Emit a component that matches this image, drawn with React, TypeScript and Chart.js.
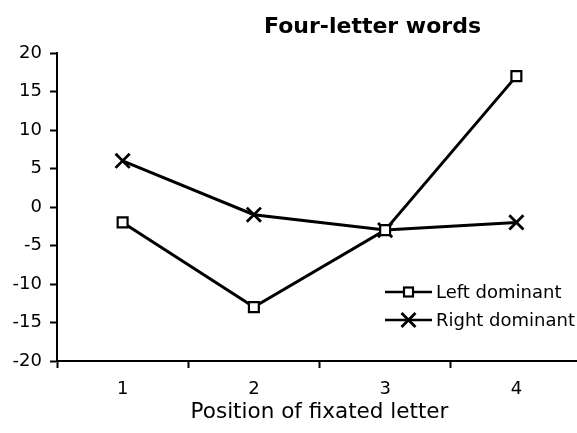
import React, { useEffect, useRef } from "react";
import { Chart, registerables } from "chart.js";

Chart.register(...registerables);

const categories = ["1", "2", "3", "4"];
const leftDominant = [-2, -13, -3, 17];
const rightDominant = [6, -1, -3, -2];
const seriesNames = ["Left dominant", "Right dominant"];
const chartTitle = "Four-letter words";
const xAxisTitle = "Position of fixated letter";

const FONT = "'DejaVu Sans', Verdana, sans-serif";

const titlePlugin = {
  id: "customTitle",
  afterDraw(chart: any) {
    const ctx = chart.ctx;
    ctx.save();
    ctx.fillStyle = "#000";
    ctx.font = `bold 22px ${FONT}`;
    ctx.textAlign = "center";
    ctx.textBaseline = "middle";
    ctx.fillText(chartTitle, 372.5, 27);
    ctx.restore();
  },
};

const legendPlugin = {
  id: "customLegend",
  afterDraw(chart: any) {
    const ctx = chart.ctx;
    const x0 = 385;
    const x1 = 432;
    const mx = (x0 + x1) / 2;
    const rows = [292, 320];
    ctx.save();
    ctx.strokeStyle = "#000";
    ctx.fillStyle = "#000";
    rows.forEach((y, i) => {
      ctx.lineWidth = 2.5;
      ctx.beginPath();
      ctx.moveTo(x0, y);
      ctx.lineTo(x1, y);
      ctx.stroke();
      if (i === 0) {
        ctx.fillStyle = "#fff";
        ctx.fillRect(mx - 4.5, y - 4.5, 9, 9);
        ctx.lineWidth = 2.2;
        ctx.strokeRect(mx - 4.5, y - 4.5, 9, 9);
      } else {
        ctx.lineWidth = 2.8;
        const d = 7;
        ctx.beginPath();
        ctx.moveTo(mx - d, y - d);
        ctx.lineTo(mx + d, y + d);
        ctx.moveTo(mx - d, y + d);
        ctx.lineTo(mx + d, y - d);
        ctx.stroke();
      }
      ctx.fillStyle = "#000";
      ctx.font = `18px ${FONT}`;
      ctx.textAlign = "left";
      ctx.textBaseline = "middle";
      ctx.fillText(seriesNames[i], x1 + 4, y + 1);
    });
    ctx.restore();
  },
};

export default function App() {
  const ref = useRef<HTMLCanvasElement>(null);

  useEffect(() => {
    if (!ref.current) return;
    const chart = new Chart(ref.current, {
      type: "line",
      data: {
        labels: categories,
        datasets: [
          {
            label: seriesNames[0],
            data: leftDominant,
            borderColor: "#000",
            borderWidth: 3,
            pointStyle: "rect",
            pointRadius: 7,
            pointBorderWidth: 2.2,
            pointBackgroundColor: "#fff",
            pointBorderColor: "#000",
            tension: 0,
          },
          {
            label: seriesNames[1],
            data: rightDominant,
            borderColor: "#000",
            borderWidth: 3,
            pointStyle: "crossRot",
            pointRadius: 10,
            pointBorderWidth: 2.8,
            pointBorderColor: "#000",
            tension: 0,
          },
        ],
      },
      options: {
        responsive: false,
        animation: false,
        layout: { padding: { top: 53, left: 0, right: 18, bottom: 0 } },
        plugins: {
          legend: { display: false },
          title: { display: false },
          tooltip: { enabled: false },
        },
        scales: {
          x: {
            type: "category",
            offset: true,
            afterFit: (s: any) => {
              s.height = 72;
            },
            grid: {
              offset: true,
              drawOnChartArea: false,
              tickLength: 7,
              tickWidth: 2,
              tickColor: "#000",
            },
            border: { color: "#000", width: 2 },
            ticks: {
              color: "#000",
              font: { family: FONT, size: 18 },
              padding: 11,
            },
            title: {
              display: true,
              text: xAxisTitle,
              color: "#000",
              font: { family: FONT, size: 21.5 },
              padding: { top: 0, bottom: 8 },
            },
          },
          y: {
            min: -20,
            max: 20,
            afterFit: (s: any) => {
              s.width = 57;
            },
            ticks: {
              stepSize: 5,
              color: "#000",
              font: { family: FONT, size: 18 },
              padding: 8,
            },
            grid: {
              drawOnChartArea: false,
              tickLength: 7,
              tickWidth: 2,
              tickColor: "#000",
            },
            border: { color: "#000", width: 2 },
          },
        },
      },
      plugins: [titlePlugin, legendPlugin],
    });
    return () => chart.destroy();
  }, []);

  return (
    <div
      style={{
        position: "fixed",
        left: 0,
        top: 0,
        width: 577,
        height: 433,
        overflow: "hidden",
        background: "#fff",
      }}
    >
      <canvas ref={ref} width={600} height={433} style={{ width: 600, height: 433 }} />
    </div>
  );
}
